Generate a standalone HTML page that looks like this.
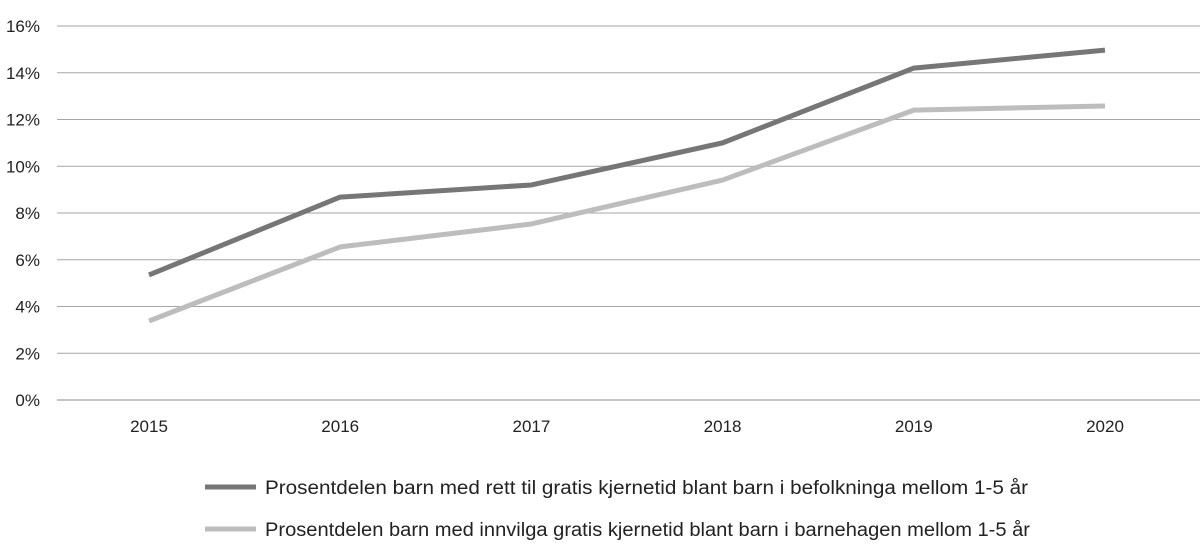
<!DOCTYPE html>
<html><head><meta charset="utf-8">
<style>
html,body{margin:0;padding:0;background:#fff;}
svg{display:block;font-family:"Liberation Sans",sans-serif;}
</style></head>
<body>
<svg id="chart" width="1200" height="558" viewBox="0 0 1200 558" xmlns="http://www.w3.org/2000/svg"></svg>
<script>
const years = ["2015","2016","2017","2018","2019","2020"];
const seriesRett = [5.35, 8.68, 9.2, 11.0, 14.2, 14.97];
const seriesInnvilga = [3.38, 6.55, 7.53, 9.41, 12.4, 12.58];
const yTicks = [0,2,4,6,8,10,12,14,16];
const legendLabels = ["Prosentdelen barn med rett til gratis kjernetid blant barn i befolkninga mellom 1-5 år","Prosentdelen barn med innvilga gratis kjernetid blant barn i barnehagen mellom 1-5 år"];

const svg = document.getElementById('chart');
const NS = "http://www.w3.org/2000/svg";
const y0 = 400, yTop = 26, plotL = 57, plotR = 1200;
function yScale(v){ return y0 - (v/16)*(y0-yTop); }
function xScale(i){ return 149 + i*191.2; }
function mk(tag, attrs){ const e=document.createElementNS(NS,tag); for(const k in attrs) e.setAttribute(k,attrs[k]); svg.appendChild(e); return e; }

yTicks.forEach(t=>{
  const g = mk('line',{x1:plotL,x2:plotR,y1:yScale(t),y2:yScale(t),stroke:t===0?'#888':'#a6a6a6','stroke-width':1});
  
  
  const l = mk('text',{x:40,y:yScale(t)+6,'text-anchor':'end','font-size':17,fill:'#222'});
  l.textContent = t+'%';
  
  
});
years.forEach((yr,i)=>{
  const l = mk('text',{x:xScale(i),y:432,'text-anchor':'middle','font-size':17,fill:'#222'});
  l.textContent = yr;
  
  
});
function drawSeries(vals,color,name){
  const p = mk('polyline',{points:vals.map((v,i)=>xScale(i)+','+yScale(v)).join(' '),fill:'none',stroke:color,'stroke-width':5,'stroke-linejoin':'round'});
  
  
}
drawSeries(seriesInnvilga,'#bdbdbd','series-innvilga');
drawSeries(seriesRett,'#767676','series-rett');

[['#767676',487,763],['#bdbdbd',529,765]].forEach((c,i)=>{
  const ln = mk('line',{x1:205,x2:256,y1:c[1],y2:c[1],stroke:c[0],'stroke-width':5});
  
  
  const t = mk('text',{x:265,y:c[1]+7,'font-size':19,fill:'#222',textLength:c[2],lengthAdjust:'spacingAndGlyphs'});
  t.textContent = legendLabels[i];
  
  
});
</script>
</body></html>
